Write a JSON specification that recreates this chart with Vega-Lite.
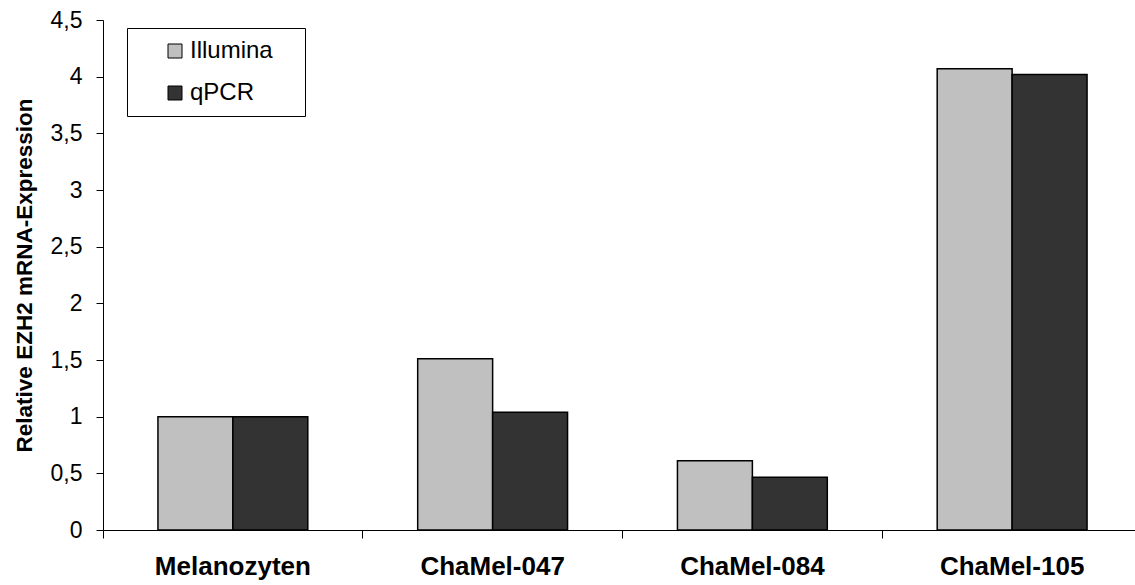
{
  "$schema": "https://vega.github.io/schema/vega-lite/v6.json",
  "autosize": "none",
  "width": 1032,
  "height": 510,
  "padding": {"left": 103, "top": 20, "right": 0, "bottom": 55},
  "background": "white",
  "config": {
    "font": "Liberation Sans",
    "view": {"stroke": null},
    "axis": {"grid": false, "domainColor": "black", "tickColor": "black", "labelColor": "black", "titleColor": "black", "domainWidth": 1, "tickWidth": 1}
  },
  "data": {
    "values": [
      {"sample": "Melanozyten", "method": "Illumina", "value": 1.0},
      {"sample": "Melanozyten", "method": "qPCR", "value": 1.0},
      {"sample": "ChaMel-047", "method": "Illumina", "value": 1.51},
      {"sample": "ChaMel-047", "method": "qPCR", "value": 1.04},
      {"sample": "ChaMel-084", "method": "Illumina", "value": 0.61},
      {"sample": "ChaMel-084", "method": "qPCR", "value": 0.465},
      {"sample": "ChaMel-105", "method": "Illumina", "value": 4.07},
      {"sample": "ChaMel-105", "method": "qPCR", "value": 4.02}
    ]
  },
  "mark": {"type": "bar", "stroke": "black", "strokeWidth": 1.5},
  "encoding": {
    "x": {
      "field": "sample",
      "type": "nominal",
      "sort": ["Melanozyten", "ChaMel-047", "ChaMel-084", "ChaMel-105"],
      "scale": {"paddingInner": 0, "paddingOuter": 0, "range": [0, 1039]},
      "axis": {
        "title": null,
        "labelAngle": 0,
        "labelFont": "Liberation Sans",
        "labelFontWeight": "bold",
        "labelFontSize": 26,
        "labelPadding": 15,
        "tickSize": 8,
        "bandPosition": 0,
        "labelFlush": false,
        "labelOverlap": false
      }
    },
    "xOffset": {
      "field": "method",
      "type": "nominal",
      "sort": ["Illumina", "qPCR"],
      "scale": {"paddingInner": 0, "paddingOuter": 0.7333}
    },
    "y": {
      "field": "value",
      "type": "quantitative",
      "scale": {"domain": [0, 4.5], "nice": false},
      "axis": {
        "title": "Relative EZH2 mRNA-Expression",
        "titleFontSize": 22.5,
        "titleFontWeight": "bold",
        "titlePadding": 14,
        "values": [0, 0.5, 1, 1.5, 2, 2.5, 3, 3.5, 4, 4.5],
        "format": "~g",
        "labelExpr": "replace(datum.label, '.', ',')",
        "labelFontSize": 23,
        "labelPadding": 14,
        "tickSize": 7
      }
    },
    "fill": {
      "field": "method",
      "type": "nominal",
      "sort": ["Illumina", "qPCR"],
      "scale": {"domain": ["Illumina", "qPCR"], "range": ["#C0C0C0", "#333333"]},
      "legend": {
        "title": "\u00a0",
        "titleOrient": "right",
        "titlePadding": 21,
        "titleFontSize": 4,
        "orient": "none",
        "legendX": 24,
        "legendY": 8,
        "fillColor": "white",
        "strokeColor": "black",
        "padding": 11,
        "symbolType": "square",
        "symbolSize": 196,
        "symbolStrokeColor": "black",
        "symbolStrokeWidth": 1,
        "symbolOffset": 25,
        "labelFontSize": 24,
        "labelColor": "black",
        "labelOffset": 3,
        "rowPadding": 18
      }
    }
  }
}
